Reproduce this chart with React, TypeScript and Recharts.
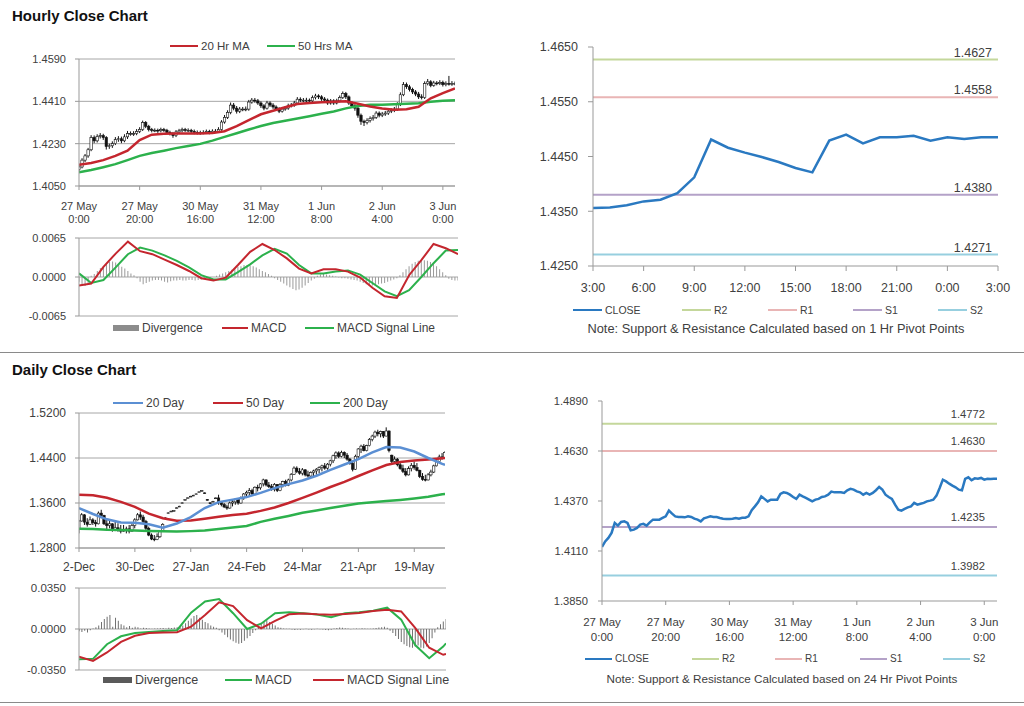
import React from 'react';
import {
  Bar,
  CartesianGrid,
  ComposedChart,
  Legend,
  Line,
  LineChart,
  ReferenceLine,
  XAxis,
  YAxis,
} from 'recharts';

const FONT = '"Liberation Sans", Arial, sans-serif';
const TXT = '#404040';
const GRID = '#a6a6a6';
const AXIS = '#999999';

// ---- hourly bars: 27 May 0:00 .. 3 Jun 4:00 ----
const hourOpen = [
  1.4120, 1.4131, 1.4160, 1.4178, 1.4204, 1.4256, 1.4242, 1.4261, 1.4264, 1.4256,
  1.4218, 1.4221, 1.4230, 1.4247, 1.4251, 1.4242, 1.4259, 1.4273, 1.4273, 1.4273,
  1.4282, 1.4290, 1.4320, 1.4304, 1.4290, 1.4287, 1.4287, 1.4285, 1.4290, 1.4287,
  1.4278, 1.4273, 1.4264, 1.4280, 1.4285, 1.4290, 1.4287, 1.4287, 1.4282, 1.4278,
  1.4277, 1.4277, 1.4278, 1.4282, 1.4278, 1.4283, 1.4283, 1.4290, 1.4322, 1.4342,
  1.4363, 1.4394, 1.4381, 1.4368, 1.4377, 1.4377, 1.4377, 1.4407, 1.4415, 1.4412,
  1.4403, 1.4391, 1.4381, 1.4403, 1.4394, 1.4386, 1.4377, 1.4368, 1.4377, 1.4381,
  1.4391, 1.4394, 1.4403, 1.4419, 1.4415, 1.4415, 1.4415, 1.4412, 1.4426, 1.4433,
  1.4429, 1.4420, 1.4415, 1.4403, 1.4412, 1.4403, 1.4412, 1.4426, 1.4443, 1.4429,
  1.4403, 1.4391, 1.4381, 1.4351, 1.4325, 1.4320, 1.4329, 1.4337, 1.4342, 1.4360,
  1.4351, 1.4356, 1.4360, 1.4368, 1.4372, 1.4377, 1.4398, 1.4438, 1.4481, 1.4472,
  1.4460, 1.4450, 1.4441, 1.4429, 1.4426, 1.4485, 1.4493, 1.4478, 1.4488, 1.4486,
  1.4490, 1.4481, 1.4486, 1.4485, 1.4486,
];
const hourHigh = [
  1.4140, 1.4168, 1.4186, 1.4212, 1.4266, 1.4265, 1.4270, 1.4275, 1.4272, 1.4262,
  1.4230, 1.4240, 1.4258, 1.4262, 1.4260, 1.4270, 1.4284, 1.4282, 1.4283, 1.4292,
  1.4300, 1.4328, 1.4326, 1.4310, 1.4297, 1.4295, 1.4294, 1.4298, 1.4297, 1.4293,
  1.4285, 1.4280, 1.4288, 1.4293, 1.4298, 1.4297, 1.4295, 1.4293, 1.4290, 1.4286,
  1.4285, 1.4287, 1.4290, 1.4289, 1.4291, 1.4292, 1.4300, 1.4330, 1.4352, 1.4372,
  1.4405, 1.4403, 1.4390, 1.4386, 1.4386, 1.4388, 1.4416, 1.4424, 1.4424, 1.4420,
  1.4410, 1.4398, 1.4412, 1.4410, 1.4402, 1.4393, 1.4385, 1.4386, 1.4390, 1.4400,
  1.4403, 1.4412, 1.4428, 1.4427, 1.4424, 1.4425, 1.4422, 1.4435, 1.4442, 1.4440,
  1.4436, 1.4428, 1.4422, 1.4420, 1.4419, 1.4421, 1.4435, 1.4452, 1.4450, 1.4435,
  1.4410, 1.4398, 1.4388, 1.4358, 1.4332, 1.4338, 1.4346, 1.4352, 1.4368, 1.4367,
  1.4365, 1.4369, 1.4376, 1.4380, 1.4386, 1.4406, 1.4448, 1.4492, 1.4490, 1.4480,
  1.4468, 1.4458, 1.4450, 1.4440, 1.4495, 1.4505, 1.4500, 1.4497, 1.4496, 1.4500,
  1.4498, 1.4495, 1.4518, 1.4496, 1.4494,
];
const hourLow = [
  1.4108, 1.4125, 1.4152, 1.4170, 1.4198, 1.4232, 1.4235, 1.4252, 1.4246, 1.4205,
  1.4208, 1.4212, 1.4224, 1.4238, 1.4232, 1.4236, 1.4250, 1.4264, 1.4263, 1.4266,
  1.4275, 1.4284, 1.4296, 1.4282, 1.4278, 1.4279, 1.4276, 1.4278, 1.4280, 1.4270,
  1.4265, 1.4255, 1.4258, 1.4273, 1.4278, 1.4280, 1.4279, 1.4274, 1.4270, 1.4269,
  1.4268, 1.4270, 1.4271, 1.4270, 1.4271, 1.4275, 1.4276, 1.4285, 1.4315, 1.4335,
  1.4355, 1.4372, 1.4358, 1.4360, 1.4368, 1.4368, 1.4370, 1.4400, 1.4404, 1.4395,
  1.4382, 1.4372, 1.4375, 1.4386, 1.4378, 1.4369, 1.4360, 1.4362, 1.4370, 1.4374,
  1.4384, 1.4387, 1.4397, 1.4407, 1.4406, 1.4407, 1.4403, 1.4405, 1.4418, 1.4420,
  1.4412, 1.4407, 1.4395, 1.4396, 1.4395, 1.4397, 1.4405, 1.4420, 1.4420, 1.4395,
  1.4382, 1.4370, 1.4340, 1.4310, 1.4305, 1.4312, 1.4320, 1.4328, 1.4335, 1.4342,
  1.4343, 1.4348, 1.4352, 1.4360, 1.4364, 1.4370, 1.4390, 1.4432, 1.4463, 1.4452,
  1.4441, 1.4432, 1.4420, 1.4418, 1.4420, 1.4478, 1.4470, 1.4472, 1.4478, 1.4479,
  1.4473, 1.4474, 1.4477, 1.4476, 1.4478,
];
const hourClose = [
  1.4131, 1.4160, 1.4178, 1.4204, 1.4256, 1.4242, 1.4261, 1.4264, 1.4256, 1.4218,
  1.4221, 1.4230, 1.4247, 1.4251, 1.4242, 1.4259, 1.4273, 1.4273, 1.4273, 1.4282,
  1.4290, 1.4320, 1.4304, 1.4290, 1.4287, 1.4287, 1.4285, 1.4290, 1.4287, 1.4278,
  1.4273, 1.4264, 1.4280, 1.4285, 1.4290, 1.4287, 1.4287, 1.4282, 1.4278, 1.4277,
  1.4277, 1.4278, 1.4282, 1.4278, 1.4283, 1.4283, 1.4290, 1.4322, 1.4342, 1.4363,
  1.4394, 1.4381, 1.4368, 1.4377, 1.4377, 1.4377, 1.4407, 1.4415, 1.4412, 1.4403,
  1.4391, 1.4381, 1.4403, 1.4394, 1.4386, 1.4377, 1.4368, 1.4377, 1.4381, 1.4391,
  1.4394, 1.4403, 1.4419, 1.4415, 1.4415, 1.4415, 1.4412, 1.4426, 1.4433, 1.4429,
  1.4420, 1.4415, 1.4403, 1.4412, 1.4403, 1.4412, 1.4426, 1.4443, 1.4429, 1.4403,
  1.4391, 1.4381, 1.4351, 1.4325, 1.4320, 1.4329, 1.4337, 1.4342, 1.4360, 1.4351,
  1.4356, 1.4360, 1.4368, 1.4372, 1.4377, 1.4398, 1.4438, 1.4481, 1.4472, 1.4460,
  1.4450, 1.4441, 1.4429, 1.4426, 1.4485, 1.4493, 1.4478, 1.4488, 1.4486, 1.4490,
  1.4481, 1.4486, 1.4485, 1.4486, 1.4486,
];
// moving averages and MACD lines, read every 4th bar
const HOUR_STEP = 4;
const hourMa20 = [
  1.4140, 1.4148, 1.4160, 1.4178, 1.4200, 1.4245, 1.4268, 1.4272, 1.4273, 1.4273,
  1.4273, 1.4275, 1.4283, 1.4305, 1.4330, 1.4355, 1.4370, 1.4385, 1.4399, 1.4403,
  1.4406, 1.4408, 1.4410, 1.4400, 1.4388, 1.4380, 1.4374, 1.4376, 1.4387, 1.4423,
  1.4445, 1.4465,
];
const hourMa50 = [
  1.4108, 1.4118, 1.4130, 1.4143, 1.4160, 1.4178, 1.4190, 1.4200, 1.4211, 1.4220,
  1.4229, 1.4243, 1.4259, 1.4274, 1.4290, 1.4305, 1.4318, 1.4327, 1.4337, 1.4347,
  1.4357, 1.4367, 1.4380, 1.4390, 1.4395, 1.4396, 1.4398, 1.4400, 1.4402, 1.4408,
  1.4412, 1.4415,
];
const hourMacd = [
  -0.0014, -0.0011, 0.0017, 0.0039, 0.0059, 0.0043, 0.0038, 0.0029, 0.0020, 0.0010,
  -0.0002, -0.0006, -0.0001, 0.0020, 0.0042, 0.0055, 0.0045, 0.0031, 0.0014, 0.0006,
  0.0013, 0.0013, 0.0009, -0.0001, -0.0018, -0.0032, -0.0035, 0.0003, 0.0028, 0.0055,
  0.0048, 0.0038,
];
const hourSignal = [
  0.0006, -0.0010, -0.0005, 0.0016, 0.0038, 0.0049, 0.0044, 0.0036, 0.0027, 0.0016,
  0.0003, -0.0004, -0.0004, 0.0008, 0.0021, 0.0036, 0.0047, 0.0039, 0.0020, 0.0006,
  0.0006, 0.0009, 0.0011, 0.0004, -0.0010, -0.0024, -0.0032, -0.0022, 0.0000, 0.0023,
  0.0044, 0.0045,
];
const hourDiv = [
  -0.0008, -0.0012, -0.0015, -0.0010, 0.0002, 0.0005, 0.0010, 0.0015, 0.0018, 0.0022,
  0.0025, 0.0026, 0.0024, 0.0020, 0.0017, 0.0014, 0.0010, 0.0006, 0.0003, -0.0002,
  -0.0008, -0.0012, -0.0010, -0.0008, -0.0006, -0.0005, -0.0005, -0.0006, -0.0008, -0.0009,
  -0.0007, -0.0006, -0.0006, -0.0005, -0.0006, -0.0006, -0.0005, -0.0005, -0.0006, -0.0005,
  -0.0004, -0.0003, -0.0002, -0.0001, 0.0000, 0.0002, 0.0004, 0.0006, 0.0008, 0.0010,
  0.0012, 0.0015, 0.0017, 0.0018, 0.0020, 0.0020, 0.0019, 0.0018, 0.0016, 0.0013,
  0.0010, 0.0008, 0.0005, 0.0002, -0.0002, -0.0005, -0.0008, -0.0011, -0.0014, -0.0017,
  -0.0020, -0.0022, -0.0021, -0.0018, -0.0014, -0.0010, -0.0006, -0.0003, 0.0002, 0.0004,
  0.0005, 0.0004, 0.0003, 0.0002, 0.0001, -0.0001, -0.0002, -0.0002, -0.0003, -0.0004,
  -0.0005, -0.0006, -0.0008, -0.0010, -0.0012, -0.0013, -0.0014, -0.0013, -0.0012, -0.0011,
  -0.0010, -0.0008, -0.0006, -0.0004, -0.0002, 0.0003, 0.0008, 0.0013, 0.0018, 0.0022,
  0.0025, 0.0027, 0.0028, 0.0028, 0.0027, 0.0025, 0.0022, 0.0018, 0.0013, 0.0008,
  0.0003, -0.0003, -0.0005, -0.0006, -0.0006,
];
const hourTickAt = [0, 20, 40, 60, 80, 100, 120];
const hourTickDay = ['27 May', '27 May', '30 May', '31 May', '1 Jun', '2 Jun', '3 Jun'];
const hourTickTime = ['0:00', '20:00', '16:00', '12:00', '8:00', '4:00', '0:00'];
const hourPriceTicks = [1.405, 1.423, 1.441, 1.459];
const hourMacdTicks = [-0.0065, 0, 0.0065];

// ---- last 24 hours with 1 Hr pivots ----
const pivotHours = [
  '3:00', '4:00', '5:00', '6:00', '7:00', '8:00', '9:00', '10:00', '11:00', '12:00',
  '13:00', '14:00', '15:00', '16:00', '17:00', '18:00', '19:00', '20:00', '21:00', '22:00',
  '23:00', '0:00', '1:00', '2:00', '3:00',
];
const pivotClose = [
  1.4356, 1.4357, 1.4361, 1.4368, 1.4371, 1.4383, 1.4412, 1.4481, 1.4466, 1.4457,
  1.4449, 1.4440, 1.4429, 1.4421, 1.4479, 1.4490, 1.4474, 1.4485, 1.4485, 1.4488,
  1.4479, 1.4485, 1.4482, 1.4485, 1.4485,
];
const pivotHourTicks = [0, 3, 6, 9, 12, 15, 18, 21, 24];
const pivotPriceTicks = [1.425, 1.435, 1.445, 1.455, 1.465];
const pivotNames = ['R2', 'R1', 'S1', 'S2'];
const hourPivots = [1.4627, 1.4558, 1.438, 1.4271];
const dayPivots = [1.4772, 1.463, 1.4235, 1.3982];
const closePriceTicks = [1.385, 1.411, 1.437, 1.463, 1.489];

// ---- daily bars: 2 Dec .. 3 Jun ----
const dayOpen = [
  1.3130, 1.3280, 1.3390, 1.3260, 1.3220, 1.3300, 1.3250, 1.3230, 1.3420, 1.3380,
  1.3230, 1.3200, 1.3230, 1.3110, 1.3160, 1.3130, 1.3100, 1.3120, 1.3140, 1.3100,
  1.3200, 1.3300, 1.3390, 1.3350, 1.3270, 1.3150, 1.3030, 1.2960, 1.2950, 1.3000,
  1.3100, 1.3325, 1.3415, 1.3445, 1.3458, 1.3505, 1.3535, 1.3595, 1.3655, 1.3685,
  1.3712, 1.3730, 1.3755, 1.3790, 1.3815, 1.3780, 1.3662, 1.3603, 1.3625, 1.3684,
  1.3690, 1.3610, 1.3570, 1.3530, 1.3510, 1.3600, 1.3620, 1.3660, 1.3600, 1.3690,
  1.3760, 1.3790, 1.3820, 1.3760, 1.3880, 1.3870, 1.3940, 1.4010, 1.3920, 1.3890,
  1.3840, 1.3930, 1.3820, 1.3930, 1.3980, 1.3910, 1.4010, 1.4110, 1.4220, 1.4160,
  1.4130, 1.4190, 1.4100, 1.4080, 1.4140, 1.4170, 1.4200, 1.4230, 1.4260, 1.4220,
  1.4290, 1.4350, 1.4440, 1.4490, 1.4430, 1.4500, 1.4450, 1.4380, 1.4300, 1.4200,
  1.4430, 1.4560, 1.4610, 1.4530, 1.4620, 1.4730, 1.4790, 1.4860, 1.4830, 1.4870,
  1.4790, 1.4880, 1.4450, 1.4340, 1.4380, 1.4280, 1.4210, 1.4160, 1.4100, 1.4210,
  1.4270, 1.4230, 1.4180, 1.4070, 1.4020, 1.4010, 1.4100, 1.4150, 1.4260, 1.4340,
  1.4420, 1.4400,
];
const dayHigh = [
  1.3300, 1.3420, 1.3400, 1.3330, 1.3360, 1.3330, 1.3300, 1.3450, 1.3480, 1.3390,
  1.3300, 1.3300, 1.3240, 1.3270, 1.3240, 1.3210, 1.3210, 1.3180, 1.3210, 1.3240,
  1.3330, 1.3420, 1.3450, 1.3390, 1.3300, 1.3180, 1.3060, 1.3030, 1.3060, 1.3120,
  1.3240, 1.3345, 1.3432, 1.3462, 1.3472, 1.3522, 1.3550, 1.3610, 1.3668, 1.3698,
  1.3727, 1.3745, 1.3769, 1.3805, 1.3828, 1.3787, 1.3668, 1.3610, 1.3638, 1.3698,
  1.3747, 1.3628, 1.3600, 1.3569, 1.3628, 1.3658, 1.3688, 1.3670, 1.3717, 1.3777,
  1.3818, 1.3866, 1.3854, 1.3895, 1.3925, 1.3954, 1.4032, 1.4020, 1.3973, 1.3937,
  1.3954, 1.3935, 1.3954, 1.3996, 1.4014, 1.4032, 1.4132, 1.4251, 1.4251, 1.4221,
  1.4221, 1.4200, 1.4174, 1.4162, 1.4192, 1.4221, 1.4251, 1.4281, 1.4310, 1.4310,
  1.4370, 1.4459, 1.4518, 1.4518, 1.4530, 1.4518, 1.4488, 1.4399, 1.4340, 1.4459,
  1.4577, 1.4636, 1.4648, 1.4636, 1.4755, 1.4814, 1.4886, 1.4903, 1.4886, 1.4880,
  1.4945, 1.4890, 1.4459, 1.4429, 1.4399, 1.4340, 1.4281, 1.4221, 1.4251, 1.4310,
  1.4340, 1.4310, 1.4192, 1.4132, 1.4103, 1.4132, 1.4192, 1.4281, 1.4370, 1.4459,
  1.4488, 1.4518,
];
const dayLow = [
  1.3060, 1.3270, 1.3210, 1.3180, 1.3210, 1.3210, 1.3180, 1.3220, 1.3330, 1.3210,
  1.3120, 1.3150, 1.3090, 1.3100, 1.3090, 1.3060, 1.3090, 1.3060, 1.3060, 1.3090,
  1.3150, 1.3290, 1.3300, 1.3240, 1.3120, 1.3010, 1.2940, 1.2920, 1.2940, 1.2980,
  1.3090, 1.3318, 1.3410, 1.3440, 1.3452, 1.3500, 1.3530, 1.3590, 1.3650, 1.3680,
  1.3707, 1.3725, 1.3750, 1.3785, 1.3810, 1.3768, 1.3648, 1.3590, 1.3618, 1.3678,
  1.3569, 1.3540, 1.3510, 1.3480, 1.3500, 1.3540, 1.3569, 1.3569, 1.3590, 1.3658,
  1.3688, 1.3717, 1.3735, 1.3750, 1.3806, 1.3836, 1.3895, 1.3895, 1.3866, 1.3818,
  1.3806, 1.3795, 1.3810, 1.3877, 1.3895, 1.3900, 1.3984, 1.4103, 1.4132, 1.4103,
  1.4091, 1.4073, 1.4055, 1.4055, 1.4073, 1.4103, 1.4132, 1.4162, 1.4192, 1.4192,
  1.4251, 1.4310, 1.4387, 1.4399, 1.4411, 1.4399, 1.4352, 1.4281, 1.4162, 1.4190,
  1.4399, 1.4488, 1.4518, 1.4518, 1.4607, 1.4696, 1.4755, 1.4785, 1.4767, 1.4755,
  1.4785, 1.4500, 1.4310, 1.4293, 1.4251, 1.4192, 1.4132, 1.4073, 1.4090, 1.4162,
  1.4192, 1.4162, 1.4043, 1.3996, 1.3984, 1.4000, 1.4073, 1.4132, 1.4251, 1.4340,
  1.4370, 1.4387,
];
const dayClose = [
  1.3280, 1.3390, 1.3260, 1.3220, 1.3300, 1.3250, 1.3230, 1.3420, 1.3380, 1.3230,
  1.3200, 1.3230, 1.3110, 1.3160, 1.3130, 1.3100, 1.3120, 1.3140, 1.3100, 1.3200,
  1.3300, 1.3390, 1.3350, 1.3270, 1.3150, 1.3030, 1.2960, 1.2950, 1.3000, 1.3100,
  1.3220, 1.3335, 1.3425, 1.3455, 1.3466, 1.3515, 1.3543, 1.3603, 1.3662, 1.3692,
  1.3720, 1.3738, 1.3762, 1.3798, 1.3820, 1.3775, 1.3655, 1.3597, 1.3630, 1.3690,
  1.3610, 1.3570, 1.3530, 1.3510, 1.3600, 1.3620, 1.3660, 1.3600, 1.3690, 1.3760,
  1.3790, 1.3820, 1.3760, 1.3880, 1.3870, 1.3940, 1.4010, 1.3920, 1.3890, 1.3840,
  1.3930, 1.3820, 1.3930, 1.3980, 1.3910, 1.4010, 1.4110, 1.4220, 1.4160, 1.4130,
  1.4190, 1.4100, 1.4080, 1.4140, 1.4170, 1.4200, 1.4230, 1.4260, 1.4220, 1.4290,
  1.4350, 1.4440, 1.4490, 1.4430, 1.4500, 1.4450, 1.4380, 1.4300, 1.4200, 1.4430,
  1.4560, 1.4610, 1.4530, 1.4620, 1.4730, 1.4790, 1.4860, 1.4830, 1.4870, 1.4790,
  1.4880, 1.4530, 1.4340, 1.4380, 1.4280, 1.4210, 1.4160, 1.4100, 1.4210, 1.4270,
  1.4230, 1.4180, 1.4070, 1.4020, 1.4010, 1.4100, 1.4150, 1.4260, 1.4340, 1.4420,
  1.4400, 1.4500,
];
// moving averages and MACD lines, read at these bars
const daySampleAt = [
  0, 5, 10, 15, 20, 25, 30, 35, 40, 45, 50, 55, 60, 65, 70, 75, 80, 85, 90, 95,
  100, 105, 110, 115, 120, 125, 130, 131,
];
const dayMa20 = [
  1.3510, 1.3405, 1.3310, 1.3255, 1.3250, 1.3222, 1.3160, 1.3235, 1.3350, 1.3510,
  1.3616, 1.3660, 1.3705, 1.3780, 1.3865, 1.3935, 1.4000, 1.4085, 1.4190, 1.4285,
  1.4380, 1.4500, 1.4595, 1.4585, 1.4515, 1.4400, 1.4295, 1.4281,
];
const dayMa50 = [
  1.3747, 1.3738, 1.3692, 1.3620, 1.3530, 1.3410, 1.3328, 1.3285, 1.3290, 1.3320,
  1.3355, 1.3385, 1.3410, 1.3460, 1.3520, 1.3600, 1.3690, 1.3785, 1.3885, 1.3975,
  1.4080, 1.4180, 1.4275, 1.4330, 1.4355, 1.4375, 1.4395, 1.4399,
];
const dayMa200 = [
  1.3142, 1.3138, 1.3125, 1.3118, 1.3110, 1.3103, 1.3098, 1.3095, 1.3100, 1.3110,
  1.3138, 1.3165, 1.3190, 1.3265, 1.3320, 1.3370, 1.3425, 1.3465, 1.3510, 1.3550,
  1.3590, 1.3615, 1.3635, 1.3655, 1.3680, 1.3710, 1.3755, 1.3759,
];
const dayMacd = [
  -0.0259, -0.0255, -0.0130, -0.0062, -0.0035, -0.0026, -0.0018, -0.0010, 0.0140, 0.0235,
  0.0255, 0.0135, 0.0000, 0.0045, 0.0134, 0.0142, 0.0134, 0.0123, 0.0100, 0.0135,
  0.0142, 0.0155, 0.0182, 0.0080, -0.0137, -0.0250, -0.0150, -0.0122,
];
const daySignal = [
  -0.0236, -0.0272, -0.0200, -0.0110, -0.0058, -0.0035, -0.0030, -0.0027, 0.0020, 0.0120,
  0.0228, 0.0195, 0.0075, 0.0005, 0.0070, 0.0125, 0.0132, 0.0125, 0.0121, 0.0128,
  0.0137, 0.0153, 0.0165, 0.0150, 0.0010, -0.0160, -0.0220, -0.0213,
];
const dayDiv = [
  -0.0020, -0.0025, -0.0015, -0.0030, -0.0010, 0.0005, 0.0015, 0.0030, 0.0060, 0.0085,
  0.0105, 0.0120, 0.0020, 0.0095, 0.0070, 0.0040, 0.0030, 0.0015, 0.0025, 0.0010,
  0.0020, 0.0015, 0.0005, 0.0010, 0.0008, 0.0005, 0.0003, 0.0005, 0.0004, 0.0006,
  0.0008, 0.0005, 0.0010, 0.0008, 0.0012, 0.0015, 0.0020, 0.0030, 0.0050, 0.0070,
  0.0090, 0.0110, 0.0120, 0.0095, 0.0080, 0.0060, 0.0050, 0.0030, 0.0020, 0.0010,
  -0.0010, -0.0030, -0.0050, -0.0070, -0.0090, -0.0105, -0.0118, -0.0125, -0.0120, -0.0100,
  -0.0080, -0.0060, -0.0035, -0.0010, 0.0020, 0.0045, 0.0065, 0.0075, 0.0060, 0.0045,
  0.0030, 0.0015, 0.0010, 0.0005, 0.0003, 0.0002, -0.0005, -0.0008, -0.0004, -0.0006,
  -0.0003, 0.0002, -0.0004, -0.0006, -0.0003, 0.0002, -0.0002, -0.0005, -0.0008, -0.0010,
  -0.0006, 0.0004, 0.0008, 0.0012, 0.0010, 0.0006, 0.0004, -0.0003, 0.0002, 0.0005,
  0.0003, 0.0006, 0.0004, 0.0002, 0.0003, 0.0005, 0.0008, 0.0012, 0.0015, 0.0020,
  0.0010, -0.0015, -0.0035, -0.0060, -0.0085, -0.0110, -0.0130, -0.0145, -0.0155, -0.0160,
  -0.0150, -0.0140, -0.0160, -0.0165, -0.0150, -0.0120, -0.0080, -0.0030, 0.0015, 0.0040,
  0.0065, 0.0085,
];
const dayTickAt = [0, 20, 40, 60, 80, 100, 120];
const dayTickLabels = ['2-Dec', '30-Dec', '27-Jan', '24-Feb', '24-Mar', '21-Apr', '19-May'];
const dayPriceTicks = [1.28, 1.36, 1.44, 1.52];
const dayMacdTicks = [-0.035, 0, 0.035];

// ---- rows for the charts ----
const pick = (arr: number[], i: number) => (i % HOUR_STEP === 0 ? arr[i / HOUR_STEP] : null);
const hourRows = hourClose.map((close, i) => ({
  i,
  open: hourOpen[i],
  high: hourHigh[i],
  low: hourLow[i],
  close,
  range: [hourLow[i], hourHigh[i]],
  ma20: pick(hourMa20, i),
  ma50: pick(hourMa50, i),
  macd: pick(hourMacd, i),
  signal: pick(hourSignal, i),
  div: hourDiv[i],
}));

const dayRows = dayClose.map((close, i) => {
  const k = daySampleAt.indexOf(i);
  const at = (arr: number[]) => (k >= 0 ? arr[k] : null);
  return {
    i,
    open: dayOpen[i],
    high: dayHigh[i],
    low: dayLow[i],
    close,
    range: [dayLow[i], dayHigh[i]],
    ma20: at(dayMa20),
    ma50: at(dayMa50),
    ma200: at(dayMa200),
    macd: at(dayMacd),
    signal: at(daySignal),
    div: dayDiv[i],
  };
});

const pivotRows = pivotClose.map((close, i) => ({ i, close }));

const f4 = (v: number) => v.toFixed(4);

const C = {
  red: '#c4262e',
  green: '#2cb14c',
  blue: '#5b8fd3',
  close: '#2a79c1',
  pivots: ['#c4d79b', '#e9b5b5', '#b4a2c8', '#97cfdf'],
};

function Candle(props: any) {
  const { x, y, width, height, payload } = props;
  if (!payload || !Number.isFinite(y)) return null;
  const top = Math.min(y, y + height);
  const h = Math.abs(height);
  const span = payload.high - payload.low || 1;
  const at = (v: number) => top + ((payload.high - v) / span) * h;
  const cx = x + width / 2;
  const b1 = at(Math.max(payload.open, payload.close));
  const b2 = at(Math.min(payload.open, payload.close));
  const up = payload.close >= payload.open;
  return (
    <g>
      <line x1={cx} x2={cx} y1={top} y2={top + h} stroke='#111' strokeWidth={1} />
      <rect
        x={cx - 1.2}
        y={b1}
        width={2.4}
        height={Math.max(b2 - b1, 0.8)}
        fill={up ? '#ffffff' : '#111'}
        stroke='#111'
        strokeWidth={0.6}
      />
    </g>
  );
}

const twoLineTick =
  (at: number[], l1: string[], l2: string[], fs: number, d1: number, d2: number) =>
  (p: any) => {
    const k = at.indexOf(p.payload.value);
    return (
      <g>
        <text x={p.x} y={p.y + d1} textAnchor='middle' fontSize={fs} fontFamily={FONT} fill={TXT}>
          {l1[k]}
        </text>
        <text x={p.x} y={p.y + d2} textAnchor='middle' fontSize={fs} fontFamily={FONT} fill={TXT}>
          {l2[k]}
        </text>
      </g>
    );
  };

const oneLineTick = (fmt: (v: number) => string, fs: number, d: number) => (p: any) => (
  <text x={p.x} y={p.y + d} textAnchor='middle' fontSize={fs} fontFamily={FONT} fill={TXT}>
    {fmt(p.payload.value)}
  </text>
);

const pivotLabel = (value: number, fs: number, inset: number, lift: number) => (p: any) => {
  const vb = p.viewBox || {};
  return (
    <text x={vb.x + vb.width - inset} y={vb.y - lift} textAnchor='end' fontSize={fs} fontFamily={FONT} fill={TXT}>
      {f4(value)}
    </text>
  );
};

type LegendItem = { name: string; color: string; x: number; w: number; bar?: boolean };

const legendBox =
  (items: LegendItem[], fontSize: number, note?: { text: string; cx: number; top: number; fontSize: number }) =>
  () => (
    <div style={{ position: 'relative', height: 40, fontFamily: FONT, fontSize, color: TXT }}>
      {items.map((it) => (
        <div
          key={it.name}
          style={{
            position: 'absolute',
            left: it.x,
            top: 0,
            height: 16,
            lineHeight: '16px',
            display: 'flex',
            alignItems: 'center',
            whiteSpace: 'nowrap',
          }}
        >
          <span
            style={{
              display: 'inline-block',
              width: it.w,
              height: it.bar ? 6 : 2,
              background: it.color,
              marginRight: 3,
            }}
          />
          {it.name}
        </div>
      ))}
      {note && (
        <div
          style={{
            position: 'absolute',
            left: note.cx,
            top: note.top,
            transform: 'translateX(-50%)',
            whiteSpace: 'nowrap',
            fontSize: note.fontSize,
            lineHeight: '16px',
          }}
        >
          {note.text}
        </div>
      )}
    </div>
  );

const yTick = (fs: number) => ({ fill: TXT, fontSize: fs, fontFamily: FONT });

const abs = (left: number, top: number): React.CSSProperties => ({ position: 'absolute', left, top });

export default function App() {
  return (
    <div style={{ position: 'absolute', left: 0, top: 0, width: 1024, height: 706, background: '#fff', fontFamily: FONT }}>
      <div style={{ ...abs(12, 7), fontSize: 15, fontWeight: 'bold', lineHeight: '18px', color: '#111' }}>
        Hourly Close Chart
      </div>
      <div style={{ ...abs(0, 352), width: 1024, borderTop: '1.5px solid #8a8a8a' }} />
      <div style={{ ...abs(12, 361), fontSize: 15, fontWeight: 'bold', lineHeight: '18px', color: '#111' }}>
        Daily Close Chart
      </div>
      <div style={{ ...abs(0, 702), width: 1024, borderTop: '1.5px solid #8a8a8a' }} />

      {/* hourly candles with moving averages */}
      <div style={abs(0, 30)}>
        <ComposedChart width={470} height={196} data={hourRows} margin={{ top: 29, right: 15, bottom: 0, left: 0 }}>
          <CartesianGrid vertical={false} stroke={GRID} />
          <XAxis
            dataKey='i'
            type='number'
            domain={[0, 124]}
            allowDataOverflow
            ticks={hourTickAt}
            interval={0}
            height={40}
            tickSize={4}
            tickMargin={2}
            stroke={AXIS}
            tick={twoLineTick(hourTickAt, hourTickDay, hourTickTime, 11, 17.6, 31.3)}
          />
          <YAxis
            type='number'
            domain={[1.405, 1.459]}
            allowDataOverflow
            ticks={hourPriceTicks}
            interval={0}
            width={79}
            tickSize={4}
            tickMargin={9}
            stroke={AXIS}
            tick={yTick(11)}
            tickFormatter={f4}
          />
          <Legend
            verticalAlign='middle'
            align='center'
            layout='horizontal'
            wrapperStyle={{ top: 8, left: 0, width: 470 }}
            content={legendBox(
              [
                { name: '20 Hr MA', color: C.red, x: 170, w: 28 },
                { name: '50 Hrs MA', color: C.green, x: 267, w: 28 },
              ],
              11.5,
            )}
          />
          <Bar dataKey='range' shape={Candle} barSize={3} isAnimationActive={false} />
          <Line dataKey='ma50' stroke={C.green} strokeWidth={2.5} dot={false} connectNulls isAnimationActive={false} />
          <Line dataKey='ma20' stroke={C.red} strokeWidth={2.5} dot={false} connectNulls isAnimationActive={false} />
        </ComposedChart>
      </div>

      {/* hourly MACD */}
      <div style={abs(0, 225)}>
        <ComposedChart width={470} height={120} data={hourRows} margin={{ top: 13, right: 12, bottom: 29, left: 0 }}>
          <CartesianGrid vertical={false} stroke={GRID} />
          <XAxis dataKey='i' type='number' domain={[0, 124]} allowDataOverflow hide />
          <YAxis
            type='number'
            domain={[-0.0065, 0.0065]}
            allowDataOverflow
            ticks={hourMacdTicks}
            interval={0}
            width={79}
            tickSize={4}
            tickMargin={9}
            stroke={AXIS}
            tick={yTick(11)}
            tickFormatter={f4}
          />
          <Legend
            verticalAlign='middle'
            align='center'
            layout='horizontal'
            wrapperStyle={{ top: 95, left: 0, width: 470 }}
            content={legendBox(
              [
                { name: 'Divergence', color: '#8c8c8c', x: 113, w: 26, bar: true },
                { name: 'MACD', color: C.red, x: 222, w: 26 },
                { name: 'MACD Signal Line', color: C.green, x: 305, w: 29 },
              ],
              12,
            )}
          />
          <Bar dataKey='div' fill='#9a9a9a' barSize={1} isAnimationActive={false} />
          <Line dataKey='signal' stroke={C.green} strokeWidth={2} dot={false} connectNulls isAnimationActive={false} />
          <Line dataKey='macd' stroke={C.red} strokeWidth={2} dot={false} connectNulls isAnimationActive={false} />
        </ComposedChart>
      </div>

      {/* last 24 hours with 1 Hr pivot levels */}
      <div style={abs(520, 30)}>
        <LineChart width={500} height={310} data={pivotRows} margin={{ top: 17, right: 22, bottom: 44, left: 0 }}>
          <XAxis
            dataKey='i'
            type='number'
            domain={[0, 24]}
            allowDataOverflow
            ticks={pivotHourTicks}
            interval={0}
            height={30}
            tickSize={5}
            tickMargin={2}
            stroke={AXIS}
            tick={oneLineTick((v) => pivotHours[v], 12.5, 19)}
          />
          <YAxis
            type='number'
            domain={[1.425, 1.465]}
            allowDataOverflow
            ticks={pivotPriceTicks}
            interval={0}
            width={73}
            tickSize={5}
            tickMargin={10}
            stroke={AXIS}
            tick={yTick(12.5)}
            tickFormatter={f4}
          />
          {hourPivots.map((lvl, k) => (
            <ReferenceLine
              key={pivotNames[k]}
              y={lvl}
              stroke={C.pivots[k]}
              strokeWidth={2}
              label={pivotLabel(lvl, 12.5, 6, 3)}
            />
          ))}
          <Legend
            verticalAlign='middle'
            align='center'
            layout='horizontal'
            wrapperStyle={{ top: 272, left: 0, width: 500 }}
            content={legendBox(
              [
                { name: 'CLOSE', color: C.close, x: 53, w: 29 },
                ...pivotNames.map((n, k) => ({ name: n, color: C.pivots[k], x: [162, 248, 333, 418][k], w: 29 })),
              ],
              10.5,
              { text: 'Note: Support & Resistance Calculated based on 1 Hr Pivot Points', cx: 256, top: 19, fontSize: 12.8 },
            )}
          />
          <Line dataKey='close' stroke={C.close} strokeWidth={2.5} dot={false} isAnimationActive={false} />
        </LineChart>
      </div>

      {/* daily candles with moving averages */}
      <div style={abs(0, 385)}>
        <ComposedChart width={470} height={190} data={dayRows} margin={{ top: 28, right: 25, bottom: 0, left: 0 }}>
          <CartesianGrid vertical={false} stroke={GRID} />
          <XAxis
            dataKey='i'
            type='number'
            domain={[0, 131]}
            allowDataOverflow
            ticks={dayTickAt}
            interval={0}
            height={27}
            tickSize={4}
            tickMargin={2}
            stroke={AXIS}
            tick={oneLineTick((v) => dayTickLabels[dayTickAt.indexOf(v)], 12, 16.5)}
          />
          <YAxis
            type='number'
            domain={[1.28, 1.52]}
            allowDataOverflow
            ticks={dayPriceTicks}
            interval={0}
            width={79}
            tickSize={4}
            tickMargin={9}
            stroke={AXIS}
            tick={yTick(12)}
            tickFormatter={f4}
          />
          <Legend
            verticalAlign='middle'
            align='center'
            layout='horizontal'
            wrapperStyle={{ top: 10, left: 0, width: 470 }}
            content={legendBox(
              [
                { name: '20 Day', color: C.blue, x: 113, w: 30 },
                { name: '50 Day', color: C.red, x: 213, w: 30 },
                { name: '200 Day', color: C.green, x: 310, w: 30 },
              ],
              12,
            )}
          />
          <Bar dataKey='range' shape={Candle} barSize={3} isAnimationActive={false} />
          <Line dataKey='ma200' stroke={C.green} strokeWidth={2.5} dot={false} connectNulls isAnimationActive={false} />
          <Line dataKey='ma50' stroke={C.red} strokeWidth={2.5} dot={false} connectNulls isAnimationActive={false} />
          <Line dataKey='ma20' stroke={C.blue} strokeWidth={2.5} dot={false} connectNulls isAnimationActive={false} />
        </ComposedChart>
      </div>

      {/* daily MACD */}
      <div style={abs(0, 575)}>
        <ComposedChart width={470} height={120} data={dayRows} margin={{ top: 13, right: 24, bottom: 25, left: 0 }}>
          <CartesianGrid vertical={false} stroke={GRID} />
          <XAxis dataKey='i' type='number' domain={[0, 131]} allowDataOverflow hide />
          <YAxis
            type='number'
            domain={[-0.035, 0.035]}
            allowDataOverflow
            ticks={dayMacdTicks}
            interval={0}
            width={79}
            tickSize={4}
            tickMargin={9}
            stroke={AXIS}
            tick={yTick(11.5)}
            tickFormatter={f4}
          />
          <Legend
            verticalAlign='middle'
            align='center'
            layout='horizontal'
            wrapperStyle={{ top: 97, left: 0, width: 470 }}
            content={legendBox(
              [
                { name: 'Divergence', color: '#5a5a5a', x: 103, w: 29, bar: true },
                { name: 'MACD', color: C.green, x: 225, w: 27 },
                { name: 'MACD Signal Line', color: C.red, x: 313, w: 31 },
              ],
              12.5,
            )}
          />
          <Bar dataKey='div' fill='#707070' barSize={1} isAnimationActive={false} />
          <Line dataKey='macd' stroke={C.green} strokeWidth={2} dot={false} connectNulls isAnimationActive={false} />
          <Line dataKey='signal' stroke={C.red} strokeWidth={2} dot={false} connectNulls isAnimationActive={false} />
        </ComposedChart>
      </div>

      {/* hourly close with 24 Hr pivot levels */}
      <div style={abs(520, 380)}>
        <LineChart width={500} height={320} data={hourRows} margin={{ top: 21, right: 23, bottom: 59, left: 0 }}>
          <XAxis
            dataKey='i'
            type='number'
            domain={[0, 124]}
            allowDataOverflow
            ticks={hourTickAt}
            interval={0}
            height={40}
            tickSize={4}
            tickMargin={2}
            stroke={AXIS}
            tick={twoLineTick(hourTickAt, hourTickDay, hourTickTime, 11.5, 18.5, 34)}
          />
          <YAxis
            type='number'
            domain={[1.385, 1.489]}
            allowDataOverflow
            ticks={closePriceTicks}
            interval={0}
            width={82}
            tickSize={4}
            tickMargin={10}
            stroke={AXIS}
            tick={yTick(11.2)}
            tickFormatter={f4}
          />
          {dayPivots.map((lvl, k) => (
            <ReferenceLine
              key={pivotNames[k]}
              y={lvl}
              stroke={C.pivots[k]}
              strokeWidth={2}
              label={pivotLabel(lvl, 11.2, 12, 6)}
            />
          ))}
          <Legend
            verticalAlign='middle'
            align='center'
            layout='horizontal'
            wrapperStyle={{ top: 271, left: 0, width: 500 }}
            content={legendBox(
              [
                { name: 'CLOSE', color: C.close, x: 65, w: 27 },
                ...pivotNames.map((n, k) => ({ name: n, color: C.pivots[k], x: [172, 255, 340, 423][k], w: 27 })),
              ],
              10,
              { text: 'Note: Support & Resistance Calculated based on 24 Hr Pivot Points', cx: 262, top: 20, fontSize: 11.7 },
            )}
          />
          <Line dataKey='close' stroke={C.close} strokeWidth={2.5} dot={false} isAnimationActive={false} />
        </LineChart>
      </div>
    </div>
  );
}
